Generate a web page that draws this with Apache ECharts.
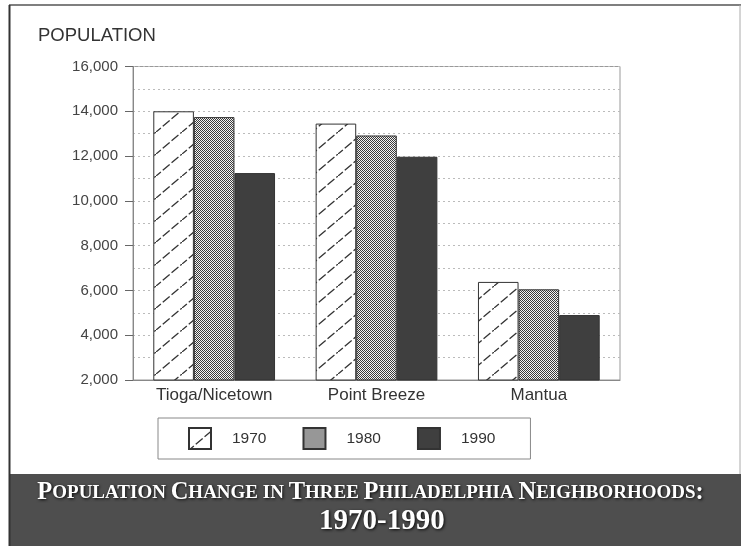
<!DOCTYPE html>
<html>
<head>
<meta charset="utf-8">
<script src="https://cdn.jsdelivr.net/npm/echarts@6/dist/echarts.min.js"></script>
<style>
html,body{margin:0;padding:0;background:#fff;}
#main{width:741px;height:546px;}
</style>
</head>
<body>
<div id="main"></div>
<script>
// ---- data ----
var neighborhoods = ['Tioga/Nicetown', 'Point Breeze', 'Mantua'];
var years = ['1970', '1980', '1990'];
var pop1970 = [14000, 13450, 6380];
var pop1980 = [13740, 12920, 6050];
var pop1990 = [11240, 11970, 4900];
var yTicks = [2000, 4000, 6000, 8000, 10000, 12000, 14000, 16000];

// ---- patterns ----
function hatchPattern() {
  var c = document.createElement('canvas');
  c.width = 26; c.height = 22;
  var g = c.getContext('2d');
  g.fillStyle = '#fff'; g.fillRect(0, 0, 26, 22);
  g.strokeStyle = '#333'; g.lineWidth = 1.3;
  g.setLineDash([9, 2.5]);
  g.beginPath();
  g.moveTo(-2, 22 + 22 / 26 * 2); g.lineTo(28, -22 / 26 * 2);
  g.stroke();
  return c;
}
function dotPattern() {
  var c = document.createElement('canvas');
  c.width = 2; c.height = 2;
  var g = c.getContext('2d');
  g.fillStyle = '#f4f4f4'; g.fillRect(0, 0, 2, 2);
  g.fillStyle = '#3a3a3a';
  g.fillRect(0, 0, 1, 1);
  g.fillRect(1, 1, 1, 1);
  return c;
}
var colHatch = { image: hatchPattern(), repeat: 'repeat' };
var colDots = { image: dotPattern(), repeat: 'repeat' };
var colDark = '#3f3f3f';

var seriesData = [pop1970, pop1980, pop1990];
var seriesColors = [colHatch, colDots, colDark];

var chart = echarts.init(document.getElementById('main'), null, { renderer: 'canvas' });

function smallCaps(str) {
  return str.split(' ').map(function (w) {
    if (w === 'IN') return '{s|IN}';
    var first = w.charAt(0);
    var rest = w.slice(1);
    var out = '{b|' + first + '}';
    if (rest.length) {
      var colon = '';
      if (rest.charAt(rest.length - 1) === ':') { colon = ':'; rest = rest.slice(0, -1); }
      out += '{s|' + rest + '}';
      if (colon) out += '{b|:}';
    }
    return out;
  }).join('{s| }');
}

var titleShadow = { textShadowColor: 'rgba(0,0,0,0.9)', textShadowBlur: 3, textShadowOffsetX: 1, textShadowOffsetY: 1 };

var option = {
  backgroundColor: '#ffffff',
  animation: false,
  title: [
    {
      text: 'POPULATION',
      left: 33, top: 21,
      textStyle: { fontFamily: 'Liberation Sans, Arial', fontSize: 18.5, fontWeight: 'normal', color: '#333' }
    },
    {
      text: smallCaps('POPULATION CHANGE IN THREE PHILADELPHIA NEIGHBORHOODS:'),
      left: 'center', top: 475,
      textStyle: {
        rich: {
          b: Object.assign({ fontFamily: 'Liberation Serif, Times New Roman', fontWeight: 'bold', fontSize: 24.5, color: '#fff', lineHeight: 26 }, titleShadow),
          s: Object.assign({ fontFamily: 'Liberation Serif, Times New Roman', fontWeight: 'bold', fontSize: 19, color: '#fff', lineHeight: 26 }, titleShadow)
        }
      }
    },
    {
      text: '1970-1990',
      left: 314, top: 502,
      textStyle: Object.assign({ fontFamily: 'Liberation Serif, Times New Roman', fontWeight: 'bold', fontSize: 29, color: '#fff' }, titleShadow)
    }
  ],
  graphic: [
    { type: 'rect', z: -10, shape: { x: 9, y: 474, width: 732, height: 72 }, style: { fill: '#4e4e4e' } },
    { type: 'line', z: -5, shape: { x1: 9, y1: 5, x2: 741, y2: 5 }, style: { stroke: '#555', lineWidth: 1.5 } },
    { type: 'line', z: -5, shape: { x1: 9.5, y1: 5, x2: 9.5, y2: 546 }, style: { stroke: '#333', lineWidth: 2 } },
    { type: 'line', z: -5, shape: { x1: 740, y1: 5, x2: 740, y2: 474 }, style: { stroke: '#aaa', lineWidth: 1 } }
  ],
  legend: {
    data: years.map(function (y) { return { name: y, icon: 'rect' }; }),
    left: 158, top: 418,
    orient: 'horizontal',
    itemWidth: 22, itemHeight: 21,
    itemGap: 36,
    padding: [9, 35, 9, 30],
    borderColor: '#888', borderWidth: 1,
    textStyle: { fontFamily: 'Liberation Sans, Arial', fontSize: 15.5, color: '#333', padding: [0, 0, 0, 16] }
  },
  grid: {
    left: 133, right: 121, top: 66.5, bottom: 166,
    show: true, borderColor: '#999', borderWidth: 1, backgroundColor: 'transparent'
  },
  xAxis: {
    type: 'category',
    data: neighborhoods,
    axisLine: { lineStyle: { color: '#888', width: 1 } },
    axisTick: { show: false },
    axisLabel: { fontFamily: 'Liberation Sans, Arial', fontSize: 17, color: '#333', margin: 7 }
  },
  yAxis: {
    type: 'value',
    min: 2000, max: 16000, interval: 2000,
    axisLine: { show: true, lineStyle: { color: '#888', width: 1 } },
    axisTick: { show: true, length: 8, lineStyle: { color: '#666' } },
    axisLabel: {
      fontFamily: 'Liberation Sans, Arial', fontSize: 15, color: '#444', margin: 15,
      formatter: function (v) { return yTicks.indexOf(v) >= 0 ? v.toLocaleString('en-US') : ''; }
    },
    splitLine: { show: true, lineStyle: { color: '#bbb', type: [2, 3], width: 1 } },
    minorTick: { show: false, splitNumber: 2 },
    minorSplitLine: { show: true, lineStyle: { color: '#bbb', type: [2, 3], width: 1 } }
  },
  series: years.map(function (y, i) {
    return {
      name: y,
      type: 'bar',
      data: seriesData[i],
      barGap: '0%',
      barCategoryGap: '25%',
      itemStyle: { color: seriesColors[i], borderColor: '#333', borderWidth: 1 }
    };
  })
};
chart.setOption(option);
</script>
</body>
</html>
